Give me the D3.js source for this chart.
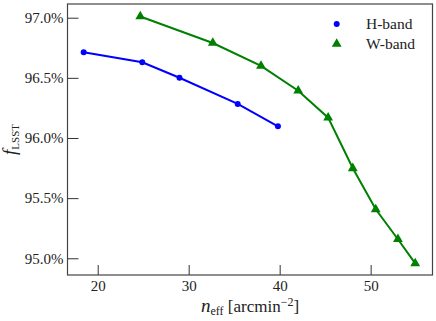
<!DOCTYPE html>
<html>
<head>
<meta charset="utf-8">
<script src="https://cdn.jsdelivr.net/npm/d3@7"></script>
<style>
  body { margin: 0; background: #fff; }
</style>
</head>
<body>
<div id="chart"></div>
<script>
// data
var hX = [18.46, 24.9, 28.99, 35.39, 39.81];
var hY = [96.712, 96.629, 96.501, 96.283, 96.097];
var wX = [24.68, 32.65, 37.95, 42.04, 45.33, 48.04, 50.56, 53.0, 54.9];
var wY = [97.01, 96.79, 96.60, 96.393, 96.169, 95.748, 95.407, 95.158, 94.958];
var xTicks = [20, 30, 40, 50];
var yTicks = [95.0, 95.5, 96.0, 96.5, 97.0];
var seriesNames = ["H-band", "W-band"];

var FONT = "Liberation Serif";

var W = 436, H = 321;
var margin = {top: 4, right: 3.5, bottom: 46, left: 67.5};
var width = W - margin.left - margin.right,
    height = H - margin.top - margin.bottom;

var x = d3.scaleLinear().domain([16.68, 56.8]).range([0, width]);
var y = d3.scaleLinear().domain([94.861, 97.114]).range([height, 0]);

var svg = d3.select('#chart').append('svg').attr('width', W).attr('height', H)
    .style('font-family', FONT);
var chart = svg.append('g')
    .attr('transform', 'translate(' + margin.left + ',' + margin.top + ')');

var xAxis = d3.axisBottom(x).tickValues(xTicks).tickSize(-10).tickPadding(5);
var yAxis = d3.axisLeft(y).tickValues(yTicks).tickSize(-11).tickPadding(4)
    .tickFormat(function(d) { return d3.format('.1f')(d) + '%'; });

var gx = chart.append('g')
    .attr('transform', 'translate(0,' + height + ')')
    .call(xAxis);
var gy = chart.append('g').call(yAxis);

[gx, gy].forEach(function(g) {
  g.attr('font-family', null).attr('font-size', null);
  g.select('.domain').remove();
  g.selectAll('.tick line').attr('stroke', '#333').attr('stroke-width', 1);
  g.selectAll('.tick text').attr('fill', '#222')
      .style('font-family', FONT).style('font-size', '15px');
});

// frame
chart.append('rect')
    .attr('width', width).attr('height', height)
    .attr('fill', 'none').attr('stroke', '#444').attr('stroke-width', 1.2);

var line = d3.line().x(function(d) { return x(d[0]); }).y(function(d) { return y(d[1]); });
var hData = hX.map(function(v, i) { return [v, hY[i]]; });
var wData = wX.map(function(v, i) { return [v, wY[i]]; });

chart.append('path').datum(hData).attr('d', line)
    .attr('fill', 'none').attr('stroke', '#0000ff').attr('stroke-width', 2);
chart.append('path').datum(wData).attr('d', line)
    .attr('fill', 'none').attr('stroke', '#008000').attr('stroke-width', 2);

var circle = d3.symbol().type(d3.symbolCircle).size(28);
var tri = d3.symbol().type(d3.symbolTriangle).size(42);

chart.selectAll('.hpt').data(hData).enter().append('path')
    .attr('d', circle)
    .attr('transform', function(d) { return 'translate(' + x(d[0]) + ',' + y(d[1]) + ')'; })
    .attr('fill', '#0000ff');
chart.selectAll('.wpt').data(wData).enter().append('path')
    .attr('d', tri)
    .attr('transform', function(d) { return 'translate(' + x(d[0]) + ',' + y(d[1]) + ')'; })
    .attr('fill', '#008000');

// legend
var leg = svg.append('g');
leg.append('path').attr('d', circle).attr('transform', 'translate(336.7,24)').attr('fill', '#0000ff');
leg.append('path').attr('d', tri).attr('transform', 'translate(336.7,44)').attr('fill', '#008000');
leg.append('text').attr('x', 366).attr('y', 29).style('font-size', '15.5px').attr('fill', '#222').text(seriesNames[0]);
leg.append('text').attr('x', 366).attr('y', 49).style('font-size', '15.5px').attr('fill', '#222').text(seriesNames[1]);

// axis labels
var xl = svg.append('text')
    .attr('x', margin.left + width / 2).attr('y', 312)
    .attr('text-anchor', 'middle').style('font-size', '17px').attr('fill', '#222');
xl.append('tspan').style('font-style', 'italic').style('font-size', '19px').text('n');
xl.append('tspan').attr('dy', 3).style('font-size', '12px').text('eff');
xl.append('tspan').attr('dy', -3).text(' [arcmin');
xl.append('tspan').attr('dy', -6).style('font-size', '12px').text('−2');
xl.append('tspan').attr('dy', 6).text(']');

var yl = svg.append('text')
    .attr('transform', 'translate(16,' + (margin.top + height / 2) + ') rotate(-90)')
    .attr('text-anchor', 'middle').attr('fill', '#222');
yl.append('tspan').style('font-style', 'italic').style('font-size', '19px').text('f');
yl.append('tspan').attr('dy', 3).style('font-size', '11px').text('LSST');
</script>
</body>
</html>
